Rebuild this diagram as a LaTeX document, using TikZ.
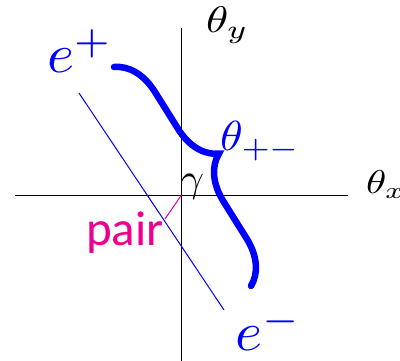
\documentclass[tikz,border=0pt]{standalone}
\usepackage{fontspec}
\usepackage{graphicx}
\newfontfamily\pairfont{Carlito}
\usetikzlibrary{decorations.pathreplacing}
\definecolor{pairpink}{RGB}{236,0,140}
\tikzset{
  axisline/.style={draw=black, line width=0.8pt},
  lbl/.style={inner sep=0pt, outer sep=0pt, anchor=base west},
  bluelbl/.style={lbl, text=blue},
}
\begin{document}
\begin{tikzpicture}[x=1pt,y=-1pt]
\useasboundingbox (0,0) rectangle (400,361);
% axes
\coordinate (O) at (181.5,195);
\coordinate (xl) at (15,195);
\coordinate (xr) at (348,195);
\coordinate (yt) at (181.5,28);
\coordinate (yb) at (181.5,362);
\draw[axisline] (xl) -- (xr);
\draw[axisline] (yt) -- (yb);
% labels
\node[lbl] (thy) at (206,33) {\scalebox{4.5}[3.7]{$\theta_y$}};
\node[lbl] (thx) at (366,194) {\scalebox{4.1}[3.3]{$\theta_x$}};
\node[bluelbl] (ep) at (47,73) {\scalebox{5.8}[5.5]{$e^+$}};
\node[bluelbl] (em) at (235,351) {\scalebox{5.8}[5.5]{$e^-$}};
\node[bluelbl] (thpm) at (220,151) {\scalebox{4.6}[4.2]{$\theta_{+-}$}};
\node[lbl] (gam) at (181,192) {\scalebox{4}{$\gamma$}};
\node[lbl, text=pairpink] (pair) at (86,246) {\fontsize{49}{55}\pairfont pair};
% pair line
\coordinate (B1) at (79,93);
\coordinate (B2) at (224,310);
\draw[blue, line width=1pt] (B1) -- (B2);
\coordinate (P) at (165,219);
\draw[magenta, line width=1pt] (O) -- (P);
% brace
\coordinate (Bs) at (114,67);
\coordinate (Be) at (251,286);
\draw[blue, line width=6.5pt, line cap=round, decorate, decoration={brace, amplitude=43pt}] (Bs) -- (Be);
\end{tikzpicture}
\end{document}
